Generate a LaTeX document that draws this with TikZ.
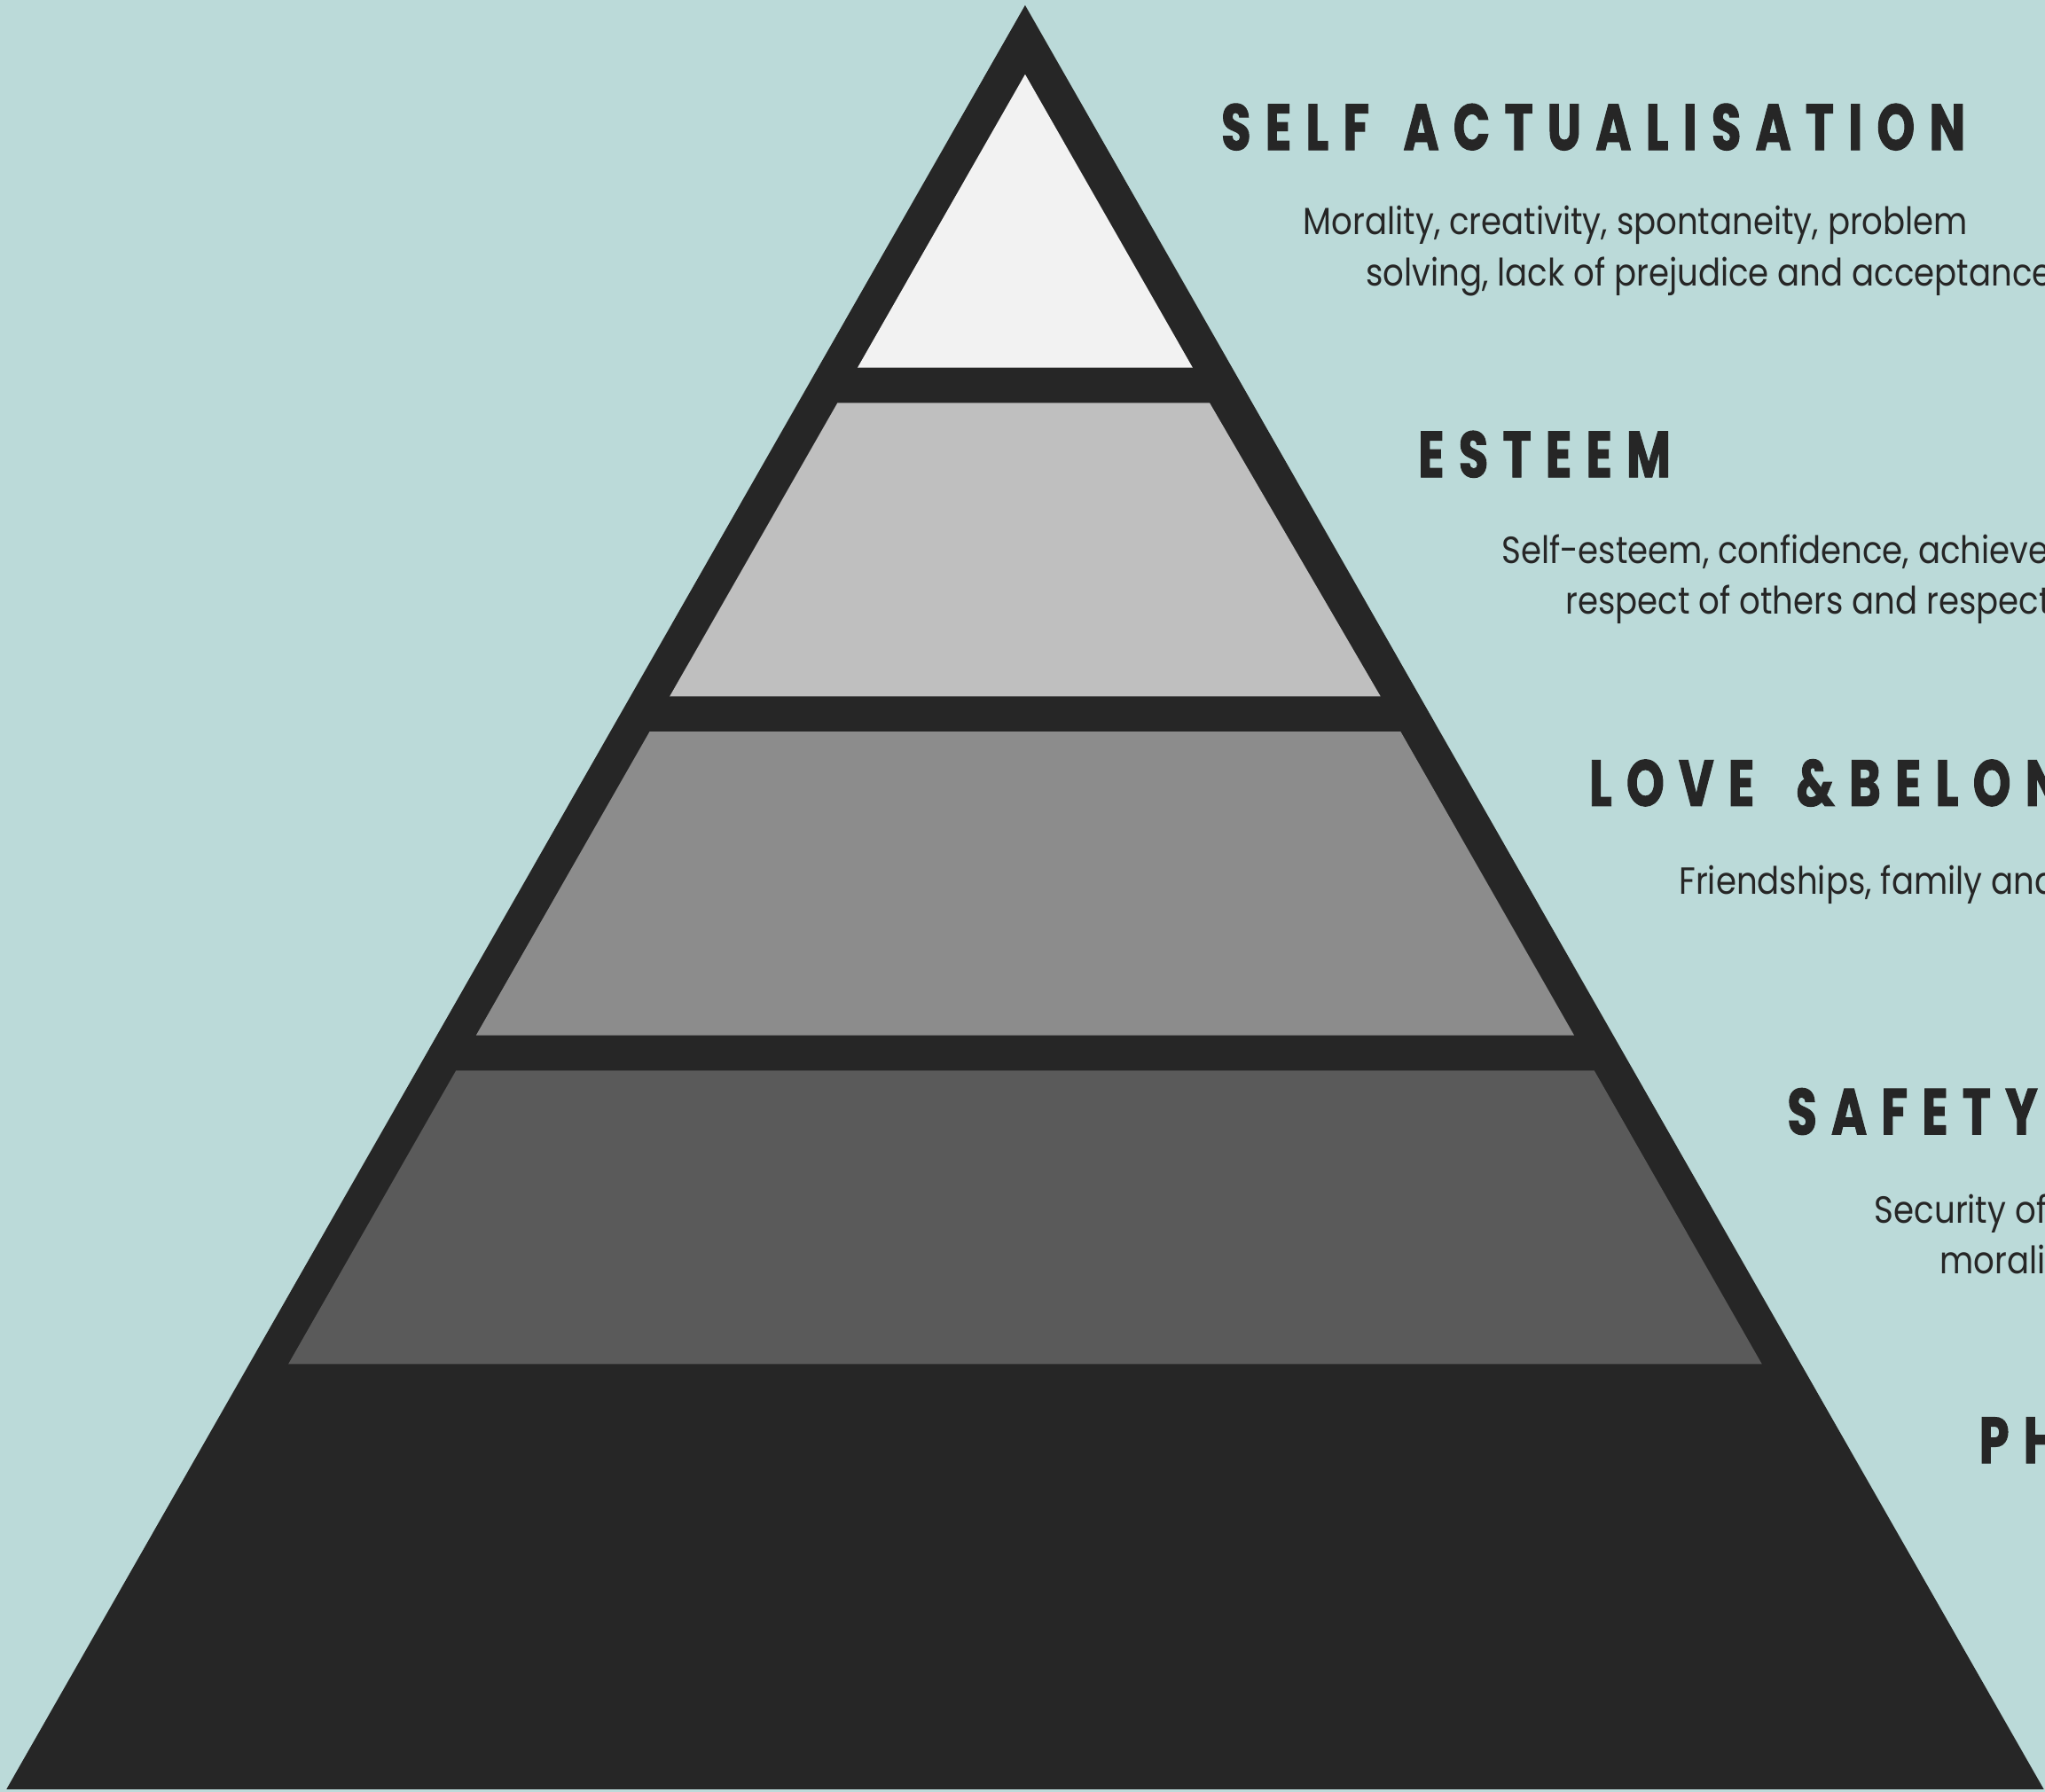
\documentclass[tikz,border=0pt]{standalone}
\usepackage{fontspec}
\setmainfont{Poppins}
\newfontfamily\titlefont{Poppins}[FakeStretch=0.74,LetterSpace=22,BoldFeatures={FakeBold=1.3}]
\newfontfamily\bodyfont{Poppins}[FakeStretch=0.87]
\definecolor{bg}{HTML}{BBDAD9}
\definecolor{dark}{HTML}{262626}
\definecolor{lvlA}{HTML}{F2F2F2}
\definecolor{lvlB}{HTML}{BFBFBF}
\definecolor{lvlC}{HTML}{8C8C8C}
\definecolor{lvlD}{HTML}{5A5A5A}
\tikzset{
  ttl/.style={anchor=base west,inner sep=0pt,text=dark,font=\titlefont\bfseries\fontsize{25}{25}\selectfont},
  bdy/.style={anchor=base west,inner sep=0pt,text=dark,font=\bodyfont\fontsize{14.5}{17}\selectfont}
}
\begin{document}
\begin{tikzpicture}[x=0.5pt,y=-0.5pt]
\useasboundingbox (0,0) rectangle (1568,1374);
\fill[bg] (0,0) rectangle (1568,1374);
\begin{scope}
\clip (0,0) rectangle (1568,1374);
% pyramid
\fill[dark] (786,4) -- (5,1372) -- (1567,1372) -- cycle;
\fill[lvlA] (786,57) -- (914.5,282) -- (657.5,282) -- cycle;
\fill[lvlB] (642.1,309) -- (927.5,309) -- (1058.5,534) -- (513.5,534) -- cycle;
\fill[lvlC] (498.1,561) -- (1073.9,561) -- (1207,794) -- (365,794) -- cycle;
\fill[lvlD] (349.6,821) -- (1222.4,821) -- (1350.9,1046) -- (221.1,1046) -- cycle;
% labels
\node[ttl] (t1) at (936,115) {SELF\hspace{13pt}ACTUALISATION};
\node[bdy] (b1a) at (999,180) {Morality, creativity, spontaneity, problem};
\node[bdy] (b1b) at (1047,219) {solving, lack of prejudice and acceptance};
\node[ttl] (t2) at (1087,366) {ESTEEM};
\node[bdy] (b2a) at (1151,432) {Self-esteem, confidence, achievement};
\node[bdy] (b2b) at (1200,471) {respect of others and respect};
\node[ttl] (t3) at (1218,618) {LOVE\hspace{16pt}\&BELONGING};
\node[bdy] (b3a) at (1287,686) {Friendships, family and};
\node[ttl] (t4) at (1370,870) {SAFETY};
\node[bdy] (b4a) at (1437,938) {Security of};
\node[bdy] (b4b) at (1487,977) {morality};
\node[ttl] (t5) at (1517,1122) {PHYSIOLOGICAL};
\end{scope}
\end{tikzpicture}
\end{document}
